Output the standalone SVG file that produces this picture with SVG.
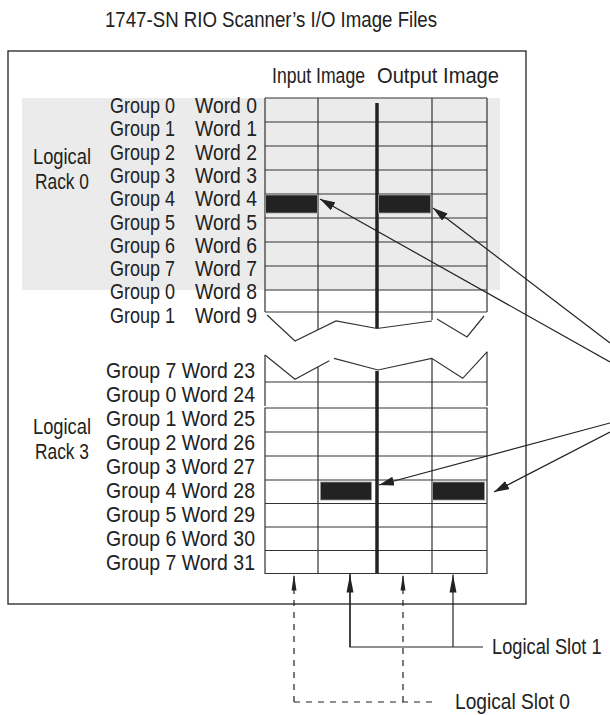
<svg xmlns="http://www.w3.org/2000/svg" width="610" height="715" viewBox="0 0 610 715">
<style>
.t{font-family:"Liberation Sans",Arial,sans-serif;font-size:21.5px;fill:#222}
.g{fill:none;stroke:#333;stroke-width:1.2}
.thick{fill:none;stroke:#222;stroke-width:3.5}
.bar{fill:#222;stroke:#999;stroke-width:0.8}
.ln{fill:none;stroke:#222;stroke-width:1.2}
.dash{fill:none;stroke:#222;stroke-width:1.2;stroke-dasharray:6 6}
</style>
<defs>
<marker id="ah" markerUnits="userSpaceOnUse" markerWidth="16" markerHeight="9" refX="15" refY="4.5" orient="auto"><path d="M0,0 L15,4.5 L0,9 z" fill="#222"/></marker>
<marker id="up" markerUnits="userSpaceOnUse" markerWidth="19" markerHeight="8" refX="18" refY="4" orient="auto"><path d="M0,0.5 L18,4 L0,7.5 z" fill="#222"/></marker>
<marker id="upd" markerUnits="userSpaceOnUse" markerWidth="17" markerHeight="6" refX="16" refY="3" orient="auto"><path d="M0,0.5 L16,3 L0,5.5 z" fill="#222"/></marker>
</defs>
<rect width="610" height="715" fill="#fff"/>
<g id="title"><text class="t" x="105" y="27" textLength="332" lengthAdjust="spacingAndGlyphs">1747-SN RIO Scanner’s I/O Image Files</text></g>
<g id="frame"><rect x="8" y="51" width="518" height="553" fill="none" stroke="#222" stroke-width="1.3"/></g>
<g id="rack0-shade"><rect x="22" y="98" width="478" height="192" fill="#ebebeb"/></g>
<g id="headers">
<text class="t" x="272" y="83" textLength="93" lengthAdjust="spacingAndGlyphs">Input Image</text>
<text class="t" x="377" y="83" textLength="122" lengthAdjust="spacingAndGlyphs">Output Image</text>
</g>
<g id="rack0-label">
<text class="t" x="62" y="164" text-anchor="middle" textLength="58" lengthAdjust="spacingAndGlyphs">Logical</text>
<text class="t" x="62" y="189" text-anchor="middle" textLength="54" lengthAdjust="spacingAndGlyphs">Rack 0</text>
</g>
<g id="rack3-label">
<text class="t" x="62" y="434" text-anchor="middle" textLength="58" lengthAdjust="spacingAndGlyphs">Logical</text>
<text class="t" x="62" y="459" text-anchor="middle" textLength="54" lengthAdjust="spacingAndGlyphs">Rack 3</text>
</g>
<g id="upper-labels">
<text class="t" x="110" y="113" textLength="65" lengthAdjust="spacingAndGlyphs">Group 0</text><text class="t" x="195" y="113" textLength="62" lengthAdjust="spacingAndGlyphs">Word 0</text>
<text class="t" x="110" y="136.3" textLength="65" lengthAdjust="spacingAndGlyphs">Group 1</text><text class="t" x="195" y="136.3" textLength="62" lengthAdjust="spacingAndGlyphs">Word 1</text>
<text class="t" x="110" y="159.6" textLength="65" lengthAdjust="spacingAndGlyphs">Group 2</text><text class="t" x="195" y="159.6" textLength="62" lengthAdjust="spacingAndGlyphs">Word 2</text>
<text class="t" x="110" y="182.9" textLength="65" lengthAdjust="spacingAndGlyphs">Group 3</text><text class="t" x="195" y="182.9" textLength="62" lengthAdjust="spacingAndGlyphs">Word 3</text>
<text class="t" x="110" y="206.2" textLength="65" lengthAdjust="spacingAndGlyphs">Group 4</text><text class="t" x="195" y="206.2" textLength="62" lengthAdjust="spacingAndGlyphs">Word 4</text>
<text class="t" x="110" y="229.5" textLength="65" lengthAdjust="spacingAndGlyphs">Group 5</text><text class="t" x="195" y="229.5" textLength="62" lengthAdjust="spacingAndGlyphs">Word 5</text>
<text class="t" x="110" y="252.8" textLength="65" lengthAdjust="spacingAndGlyphs">Group 6</text><text class="t" x="195" y="252.8" textLength="62" lengthAdjust="spacingAndGlyphs">Word 6</text>
<text class="t" x="110" y="276.1" textLength="65" lengthAdjust="spacingAndGlyphs">Group 7</text><text class="t" x="195" y="276.1" textLength="62" lengthAdjust="spacingAndGlyphs">Word 7</text>
<text class="t" x="110" y="299.4" textLength="65" lengthAdjust="spacingAndGlyphs">Group 0</text><text class="t" x="195" y="299.4" textLength="62" lengthAdjust="spacingAndGlyphs">Word 8</text>
<text class="t" x="110" y="322.7" textLength="65" lengthAdjust="spacingAndGlyphs">Group 1</text><text class="t" x="195" y="322.7" textLength="62" lengthAdjust="spacingAndGlyphs">Word 9</text>
</g>
<g id="lower-labels">
<text class="t" x="106" y="378" textLength="149" lengthAdjust="spacingAndGlyphs">Group 7 Word 23</text>
<text class="t" x="106" y="402" textLength="149" lengthAdjust="spacingAndGlyphs">Group 0 Word 24</text>
<text class="t" x="106" y="426" textLength="149" lengthAdjust="spacingAndGlyphs">Group 1 Word 25</text>
<text class="t" x="106" y="450" textLength="149" lengthAdjust="spacingAndGlyphs">Group 2 Word 26</text>
<text class="t" x="106" y="474" textLength="149" lengthAdjust="spacingAndGlyphs">Group 3 Word 27</text>
<text class="t" x="106" y="498" textLength="149" lengthAdjust="spacingAndGlyphs">Group 4 Word 28</text>
<text class="t" x="106" y="522" textLength="149" lengthAdjust="spacingAndGlyphs">Group 5 Word 29</text>
<text class="t" x="106" y="546" textLength="149" lengthAdjust="spacingAndGlyphs">Group 6 Word 30</text>
<text class="t" x="106" y="570" textLength="149" lengthAdjust="spacingAndGlyphs">Group 7 Word 31</text>
</g>
<g id="upper-grid">
<path class="g" d="M265,98H487 M265,122H487 M265,146H487 M265,170H487 M265,194H487 M265,218H487 M265,242H487 M265,266H487 M265,290H487 M265,312H487 M265,98V312 M487,98V312 M318,98V330 M432,98V320"/>
<path class="thick" d="M377,103V328"/>
<polyline class="g" points="267,315 295,341 336,321 377,328.5 432,321"/>
<polyline class="g" points="437,319 467,337 484,316"/>
<rect class="bar" x="265.5" y="195" width="52" height="18"/>
<rect class="bar" x="378.5" y="195" width="52" height="18"/>
</g>
<g id="lower-grid">
<polyline class="g" points="265,355 295,379.3 329.3,360.7"/>
<polyline class="g" points="334,358.3 378,370 431.7,358.3 462.7,378.3 487.3,351.7"/>
<path class="g" d="M265,355V406 M487,352V406 M265,382H487 M318,367V573.5 M432,358.5V573.5 M265,408H487V573.5H265Z M265,432H487 M265,456H487 M265,480H487 M265,503.5H487 M265,527H487 M265,550.5H487"/>
<path class="thick" d="M377,371V573"/>
<rect class="bar" x="320.5" y="482" width="51" height="18"/>
<rect class="bar" x="432.5" y="482" width="52" height="18"/>
</g>
<g id="connectors">
<line class="ln" x1="610" y1="362" x2="320" y2="199" marker-end="url(#ah)"/>
<line class="ln" x1="610" y1="343" x2="433" y2="208" marker-end="url(#ah)"/>
<line class="ln" x1="610" y1="423" x2="379" y2="485" marker-end="url(#ah)"/>
<line class="ln" x1="610" y1="432" x2="494" y2="492" marker-end="url(#ah)"/>
<polyline class="ln" points="350,574 350,647 483,647"/>
<line class="ln" x1="350" y1="647" x2="350" y2="574.5" marker-end="url(#up)"/>
<line class="ln" x1="453" y1="647" x2="453" y2="574.5" marker-end="url(#up)"/>
<polyline class="dash" points="294,702 435,702"/>
<line class="dash" x1="294" y1="702" x2="294" y2="574.5" marker-end="url(#upd)"/>
<line class="dash" x1="403" y1="702" x2="403" y2="574.5" marker-end="url(#upd)"/>
</g>
<g id="slot-labels">
<text class="t" transform="translate(492,654) scale(0.85,1)" x="0" y="0">Logical Slot 1</text>
<text class="t" x="455" y="709" textLength="115" lengthAdjust="spacingAndGlyphs">Logical Slot 0</text>
</g>
</svg>
